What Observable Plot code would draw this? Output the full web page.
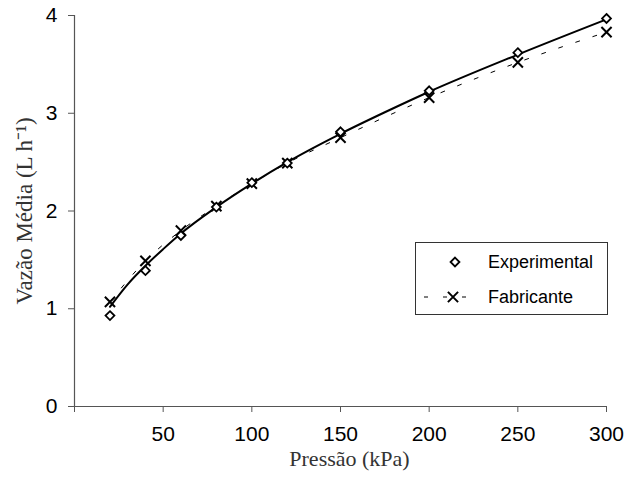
<!DOCTYPE html>
<html><head><meta charset="utf-8">
<script src="https://cdn.jsdelivr.net/npm/d3@7"></script>
<script src="https://cdn.jsdelivr.net/npm/@observablehq/plot@0.6"></script>
<style>
body{margin:0;background:#fff}
#wrap{position:relative;width:639px;height:478px;background:#fff}
</style>
</head><body><div id="wrap"></div>
<script>
const pressure = [20, 40, 60, 80, 100, 120, 150, 200, 250, 300];
const experimental = [0.93, 1.39, 1.75, 2.04, 2.29, 2.49, 2.81, 3.23, 3.62, 3.97];
const fabricante = [1.07, 1.49, 1.80, 2.05, 2.28, 2.49, 2.75, 3.16, 3.52, 3.83];
const trendPressure = [20, 30, 40, 50, 60, 80, 100, 120, 150, 175, 200, 250, 300];
const trendExperimental = [1.02, 1.25, 1.44, 1.61, 1.77, 2.04, 2.28, 2.50, 2.79, 3.01, 3.22, 3.60, 3.96];
const xTicks = [0, 50, 100, 150, 200, 250, 300];
const yTicks = [0, 1, 2, 3, 4];
const seriesNames = ["Experimental", "Fabricante"];
const xTitle = "Pressão (kPa)";
const yTitle = "Vazão Média (L h⁻¹)";

const expData = pressure.map((p, i) => ({p, v: experimental[i]}));
const fabData = pressure.map((p, i) => ({p, v: fabricante[i]}));
const trendData = trendPressure.map((p, i) => ({p, v: trendExperimental[i]}));

const serif = "'Liberation Serif', 'Times New Roman', serif";
const sans = "'Liberation Sans', Arial, sans-serif";

const chart = Plot.plot({
  width: 639, height: 478,
  marginLeft: 74, marginRight: 33, marginTop: 15, marginBottom: 72,
  style: {fontFamily: sans, fontSize: "21px", color: "#000", background: "#fff", overflow: "visible"},
  x: {domain: [0, 300]},
  y: {domain: [0, 4]},
  marks: [
    Plot.axisX({ticks: xTicks, tickSize: 6, tickPadding: 14, tickFormat: d => d === 0 ? "" : String(d), label: null, stroke: "#555", fontSize: 21}),
    Plot.axisY({ticks: yTicks, tickSize: 6, tickPadding: 11, tickFormat: d => String(d), label: null, stroke: "#555", fontSize: 21}),
    Plot.ruleX([0], {stroke: "#555", strokeWidth: 1.2}),
    Plot.ruleY([0], {stroke: "#555", strokeWidth: 1.2}),
    Plot.line(fabData, {x: "p", y: "v", stroke: "#000", strokeWidth: 1, strokeDasharray: "4,14", curve: "monotone-x"}),
    Plot.line(trendData, {x: "p", y: "v", stroke: "#000", strokeWidth: 2, curve: "monotone-x"}),
    Plot.dot(fabData, {x: "p", y: "v", symbol: "times", r: 4.7, stroke: "#000", strokeWidth: 2}),
    Plot.dot(expData, {x: "p", y: "v", symbol: "diamond2", r: 4, stroke: "#000", fill: "#fff", strokeWidth: 1.8}),
    Plot.text([yTitle], {frameAnchor: "left", dx: -50, rotate: -90, textAnchor: "middle", lineAnchor: "middle", fontFamily: serif, fontSize: 23, fill: "#333"}),
    Plot.text([xTitle], {frameAnchor: "bottom", dx: 9, dy: 44, textAnchor: "middle", lineAnchor: "top", fontFamily: serif, fontSize: 22, fill: "#333"})
  ]
});
const wrap = document.getElementById("wrap");
wrap.appendChild(chart);

// legend overlay
const lg = d3.select(wrap).append("svg")
  .attr("width", 639).attr("height", 478)
  .style("position", "absolute").style("left", "0px").style("top", "0px");
const bx = 415, by = 242, bw = 192, bh = 72;
lg.append("rect").attr("x", bx + 0.5).attr("y", by + 0.5).attr("width", bw).attr("height", bh)
  .attr("fill", "#fff").attr("stroke", "#333").attr("stroke-width", 1);
const rows = [by + 20, by + 55];
lg.append("path").attr("d", d3.symbol(d3.symbolDiamond2, Math.PI * 16)())
  .attr("transform", `translate(${bx + 40},${rows[0]})`)
  .attr("fill", "#fff").attr("stroke", "#000").attr("stroke-width", 1.8);
[[bx + 9, bx + 13], [bx + 28, bx + 32], [bx + 47, bx + 51]].forEach(([a, b]) => {
  lg.append("line").attr("x1", a).attr("x2", b).attr("y1", rows[1]).attr("y2", rows[1])
    .attr("stroke", "#000").attr("stroke-width", 1);
});
lg.append("path").attr("d", d3.symbol(d3.symbolTimes, Math.PI * 4.7 * 4.7)())
  .attr("transform", `translate(${bx + 38},${rows[1]})`)
  .attr("fill", "none").attr("stroke", "#000").attr("stroke-width", 2);
seriesNames.forEach((name, i) => {
  lg.append("text").attr("x", bx + 73).attr("y", rows[i]).attr("dy", "0.35em")
    .attr("font-family", sans).attr("font-size", 18)
    .attr("fill", "#000").text(name);
});
</script>
</body></html>
